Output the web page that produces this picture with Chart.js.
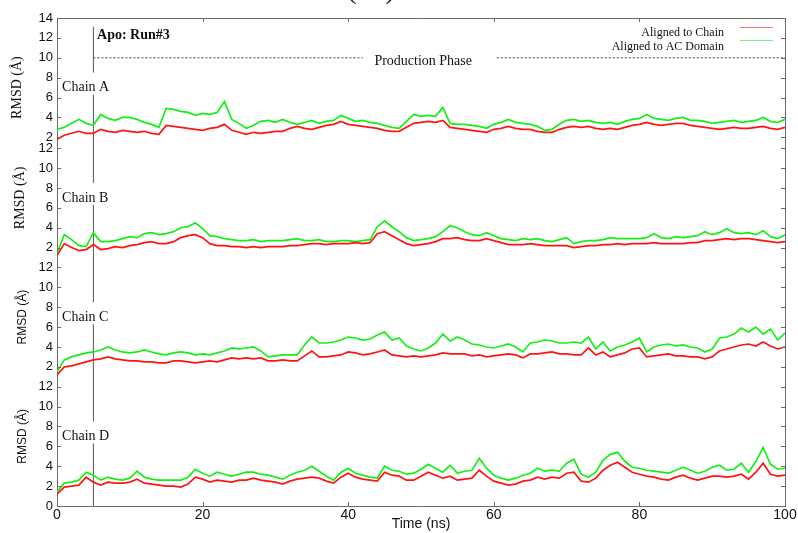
<!DOCTYPE html>
<html>
<head>
<meta charset="utf-8">
<script src="https://cdn.jsdelivr.net/npm/chart.js@4.4.1/dist/chart.umd.min.js"></script>
<style>
  html, body { margin: 0; padding: 0; background: #fff; }
  canvas { display: block; }
</style>
</head>
<body>
<canvas id="rmsdChart" width="798" height="533"></canvas>
<script>
// RMSD traces, one sample per ns (0..100 ns)
const TIME_NS = Array.from({ length: 101 }, (_, i) => i);

const A_CHAIN = [1.8,2.2,2.4,2.6,2.4,2.4,2.8,2.6,2.5,2.7,
  2.6,2.5,2.6,2.4,2.3,3.2,3.1,3.0,2.9,2.8,
  2.7,2.9,3.0,3.3,2.7,2.5,2.3,2.5,2.4,2.5,
  2.6,2.6,2.9,3.1,2.9,2.8,3.0,3.2,3.3,3.6,
  3.3,3.2,3.1,3.0,2.9,2.7,2.6,2.6,3.0,3.4,
  3.5,3.6,3.5,3.7,3.0,2.9,2.8,2.7,2.6,2.5,
  2.8,2.9,3.1,2.9,2.8,2.8,2.6,2.5,2.5,2.8,
  3.0,3.1,3.0,3.1,2.9,2.8,2.9,2.8,3.0,3.2,
  3.3,3.5,3.3,3.2,3.3,3.4,3.4,3.2,3.1,3.0,
  2.9,2.8,2.9,3.0,2.9,2.9,3.0,3.1,2.9,2.8,
  3.0];
const A_DOMAIN = [2.8,3.0,3.4,3.8,3.4,3.2,4.3,3.9,3.7,4.0,
  4.0,3.8,3.5,3.3,3.0,4.9,4.8,4.6,4.5,4.2,
  4.4,4.3,4.5,5.6,3.8,3.4,2.9,3.2,3.6,3.7,
  3.5,3.8,3.5,3.3,3.5,3.7,3.4,3.6,3.7,4.2,
  3.9,3.6,3.7,3.5,3.4,3.2,3.0,2.9,3.6,4.3,
  4.1,4.2,4.1,5.0,3.4,3.3,3.3,3.2,3.1,2.9,
  3.3,3.5,3.8,3.5,3.4,3.3,3.1,2.7,2.8,3.3,
  3.7,3.8,3.6,3.7,3.5,3.4,3.5,3.3,3.6,3.8,
  3.9,4.3,3.9,3.8,3.7,3.9,4.0,3.7,3.7,3.6,
  3.4,3.5,3.6,3.7,3.5,3.6,3.7,4.0,3.6,3.5,
  3.8];

const B_CHAIN = [1.2,2.4,2.0,1.7,1.8,2.3,1.8,1.9,2.1,2.0,
  2.2,2.3,2.5,2.6,2.4,2.4,2.6,3.0,3.2,3.3,
  3.0,2.4,2.2,2.2,2.1,2.1,2.0,2.1,2.0,2.1,
  2.1,2.1,2.2,2.2,2.3,2.4,2.4,2.3,2.4,2.4,
  2.4,2.5,2.4,2.5,3.4,3.6,3.2,2.8,2.4,2.2,
  2.3,2.4,2.6,2.9,2.9,3.0,2.8,2.7,2.7,2.9,
  2.7,2.5,2.3,2.3,2.3,2.4,2.3,2.2,2.2,2.2,
  2.2,2.0,2.1,2.2,2.2,2.3,2.3,2.4,2.3,2.4,
  2.4,2.4,2.5,2.4,2.4,2.4,2.4,2.5,2.5,2.7,
  2.7,2.8,2.9,2.8,2.9,2.9,2.8,2.7,2.6,2.5,
  2.6];
const B_DOMAIN = [1.4,3.3,2.8,2.2,2.1,3.5,2.6,2.6,2.7,2.9,
  3.1,3.0,3.4,3.5,3.3,3.4,3.6,4.0,4.1,4.5,
  3.9,3.2,3.1,2.9,2.8,2.7,2.7,2.8,2.6,2.7,
  2.7,2.7,2.8,2.9,2.7,2.7,2.8,2.6,2.6,2.7,
  2.7,2.6,2.7,2.8,4.1,4.7,4.1,3.6,3.0,2.7,
  2.8,2.9,3.1,3.6,4.2,4.0,3.6,3.3,3.2,3.5,
  3.2,2.9,2.8,2.7,2.9,2.8,2.9,2.7,2.6,2.8,
  3.0,2.4,2.6,2.7,2.7,2.8,3.0,2.9,2.9,2.9,
  2.9,3.0,3.4,3.0,2.9,3.1,3.0,3.1,3.2,3.6,
  3.3,3.5,3.9,3.5,3.4,3.5,3.3,3.7,3.1,2.9,
  3.3];

const C_CHAIN = [1.2,2.0,2.1,2.3,2.5,2.7,2.8,3.0,2.8,2.7,
  2.6,2.6,2.5,2.5,2.4,2.4,2.6,2.6,2.5,2.4,
  2.5,2.6,2.5,2.7,2.9,2.8,2.9,2.8,2.9,2.6,
  2.6,2.7,2.6,2.6,3.1,3.6,3.0,3.0,3.1,3.2,
  3.5,3.4,3.2,3.3,3.5,3.7,3.2,3.1,3.0,3.1,
  3.0,3.1,3.2,3.4,3.3,3.3,3.3,3.1,3.2,3.0,
  3.1,3.2,3.3,3.2,2.9,3.3,3.3,3.4,3.5,3.3,
  3.3,3.2,3.2,3.9,3.2,3.5,3.0,3.2,3.4,3.8,
  3.9,3.0,3.1,3.2,3.3,3.1,3.1,3.0,3.0,2.8,
  3.0,3.6,3.8,4.0,4.2,4.3,4.1,4.5,4.1,3.8,
  4.0];
const C_DOMAIN = [1.5,2.7,3.0,3.2,3.4,3.5,3.7,4.0,3.7,3.5,
  3.4,3.5,3.7,3.5,3.3,3.2,3.4,3.5,3.4,3.2,
  3.3,3.2,3.4,3.6,3.9,3.8,3.9,4.0,3.6,3.0,
  3.1,3.2,3.2,3.2,4.2,5.0,4.4,4.4,4.5,4.7,
  5.0,4.9,4.7,4.8,5.2,5.5,4.7,4.9,4.1,3.8,
  3.6,3.9,4.4,5.3,4.6,5.0,4.7,4.3,4.2,4.0,
  3.9,4.1,4.3,4.0,3.5,4.4,4.5,4.7,4.6,4.4,
  4.4,4.5,4.4,5.0,3.8,4.5,3.6,4.0,4.2,4.5,
  4.9,3.5,4.0,4.2,4.3,4.1,4.2,4.0,3.9,3.5,
  3.8,4.9,5.0,5.3,5.9,5.5,6.0,5.3,5.8,4.7,
  5.4];

const D_CHAIN = [1.2,1.9,2.0,2.1,2.9,2.4,2.1,2.4,2.3,2.3,
  2.4,2.7,2.3,2.2,2.1,2.0,2.0,1.9,2.2,2.9,
  2.7,2.4,2.6,2.5,2.4,2.6,2.6,2.8,2.6,2.5,
  2.4,2.2,2.5,2.7,2.8,2.9,2.8,2.5,2.3,2.9,
  3.3,2.9,2.7,2.6,2.5,3.4,3.1,3.0,2.6,2.6,
  3.0,3.4,3.1,2.8,3.0,2.6,2.7,2.8,3.6,3.0,
  2.5,2.3,2.1,2.2,2.5,2.6,2.9,2.7,2.9,2.8,
  3.3,3.4,2.5,2.4,2.8,3.6,4.1,4.4,3.9,3.4,
  3.2,3.0,2.9,2.7,2.6,2.9,3.1,2.8,2.6,2.8,
  3.0,3.0,2.9,3.0,3.2,2.7,3.4,4.3,3.2,3.0,
  3.1];
const D_DOMAIN = [1.4,2.3,2.4,2.6,3.4,3.1,2.6,2.9,2.7,2.6,
  2.8,3.5,2.9,2.7,2.6,2.6,2.6,2.6,2.9,3.7,
  3.3,3.0,3.4,3.2,3.0,3.2,3.4,3.4,3.2,3.1,
  2.9,2.7,3.1,3.4,3.6,4.0,3.5,3.0,2.6,3.4,
  3.8,3.3,3.1,2.9,2.8,4.0,3.6,3.5,3.2,3.3,
  3.7,4.2,3.8,3.4,4.1,3.3,3.5,3.6,4.8,3.8,
  3.1,2.8,2.6,2.8,3.1,3.3,3.8,3.5,3.6,3.5,
  4.3,4.7,3.2,2.9,3.4,4.6,5.2,5.4,4.5,3.9,
  3.8,3.6,3.5,3.4,3.3,3.6,3.9,3.6,3.3,3.5,
  3.9,4.1,3.6,3.7,4.3,3.4,4.5,5.9,4.2,3.7,
  3.8];

// tick labels shown for each panel, and the x ticks
const TICKS_A = [2, 4, 6, 8, 10, 12, 14];
const TICKS_BC = [2, 4, 6, 8, 10, 12];
const TICKS_D = [0, 2, 4, 6, 8, 10, 12];
const X_TICKS = [0, 20, 40, 60, 80, 100];

// production phase starts at 5 ns, dotted marker at 10 Å in panel A
const PHASE_START = 5;
const PHASE_LEVEL = 10;
const PHASE_GAP = [42, 60.4];

const SERIF = '"Liberation Serif", "Times New Roman", serif';
const SANS = '"Liberation Sans", Arial, sans-serif';
const FRAME = '#6a6a6a';
const RED = 'rgb(255, 20, 20)';
const GREEN = 'rgb(20, 240, 20)';

// panels share one canvas, stacked with overlapping 0..14 ranges
const Y_MAX = 49.1;
const PANELS = [
  { id: 'yA', name: 'Chain A', offset: 35.1, chain: A_CHAIN, domain: A_DOMAIN, ticks: TICKS_A, titleFont: '14px ' + SERIF, titleX: 17 },
  { id: 'yB', name: 'Chain B', offset: 24, chain: B_CHAIN, domain: B_DOMAIN, ticks: TICKS_BC, titleFont: '14px ' + SERIF, titleX: 20 },
  { id: 'yC', name: 'Chain C', offset: 12, chain: C_CHAIN, domain: C_DOMAIN, ticks: TICKS_BC, titleFont: '12px ' + SANS, titleX: 23 },
  { id: 'yD', name: 'Chain D', offset: 0, chain: D_CHAIN, domain: D_DOMAIN, ticks: TICKS_D, titleFont: '12px ' + SANS, titleX: 23 }
];

const TICK_VALUES = [];
const TICK_LABELS = [];
PANELS.slice().reverse().forEach(p => {
  p.ticks.forEach(t => { TICK_VALUES.push(p.offset + t); TICK_LABELS.push(String(t)); });
});

const toPoints = ys => ys.map((y, i) => ({ x: TIME_NS[i], y }));

const datasets = [];
PANELS.forEach(p => {
  datasets.push({ label: 'Aligned to Chain', data: toPoints(p.chain), yAxisID: p.id, borderColor: RED, borderWidth: 1.7, pointRadius: 0, tension: 0, order: 1 });
  datasets.push({ label: 'Aligned to AC Domain', data: toPoints(p.domain), yAxisID: p.id, borderColor: GREEN, borderWidth: 1.7, pointRadius: 0, tension: 0, order: 2 });
});
// start of production phase
datasets.push({ data: [{ x: PHASE_START, y: 0 }, { x: PHASE_START, y: 48.2 }], yAxisID: 'y', borderColor: '#555', borderWidth: 1, pointRadius: 0, order: 3 });
datasets.push({
  data: [{ x: PHASE_START, y: PHASE_LEVEL }, { x: PHASE_GAP[0], y: PHASE_LEVEL }, { x: 51, y: null },
         { x: PHASE_GAP[1], y: PHASE_LEVEL }, { x: 100, y: PHASE_LEVEL }],
  yAxisID: 'yA', borderColor: '#444', borderWidth: 1, borderDash: [2, 2], pointRadius: 0, spanGaps: false, order: 3
});

const scales = {
  x: {
    type: 'linear', min: 0, max: 100,
    afterBuildTicks: s => { s.ticks = X_TICKS.map(v => ({ value: v })); },
    ticks: { padding: 1, color: '#111', font: { family: SANS, size: 14 } },
    grid: { drawOnChartArea: false, drawTicks: false },
    border: { color: FRAME },
    title: { display: true, text: 'Time (ns)', color: '#111', font: { family: SANS, size: 14 }, padding: 0 },
    afterFit: s => { s.height = 27; }
  },
  y: {
    min: 0, max: Y_MAX, weight: 10,
    afterBuildTicks: s => { s.ticks = TICK_VALUES.map(v => ({ value: v })); },
    ticks: { autoSkip: false, padding: 4, color: '#111', font: { family: SANS, size: 13 }, callback: (v, i) => TICK_LABELS[i] },
    grid: { drawOnChartArea: false, drawTicks: false },
    border: { color: FRAME },
    afterFit: s => { s.width = 57; }
  }
};
PANELS.forEach(p => {
  scales[p.id] = { display: false, min: -p.offset, max: Y_MAX - p.offset, afterFit: s => { s.width = 0; } };
});

const overlay = {
  id: 'overlay',
  afterDraw(chart) {
    const { ctx, chartArea: a } = chart;
    const sx = chart.scales.x, sy = chart.scales.y, sA = chart.scales.yA;
    const line = (x1, y1, x2, y2) => { ctx.beginPath(); ctx.moveTo(x1, y1); ctx.lineTo(x2, y2); ctx.stroke(); };
    ctx.save();

    // top and right frame, inward tick marks
    ctx.strokeStyle = FRAME;
    ctx.lineWidth = 1;
    line(a.left, a.top + 0.5, a.right + 0.5, a.top + 0.5);
    line(a.right + 0.5, a.top, a.right + 0.5, a.bottom);
    TICK_VALUES.forEach(v => {
      const py = Math.round(sy.getPixelForValue(v)) + 0.5;
      line(a.left, py, a.left + 4, py);
      line(a.right - 4, py, a.right, py);
    });
    X_TICKS.slice(1, -1).forEach(v => {
      const px = Math.round(sx.getPixelForValue(v)) + 0.5;
      line(px, a.top, px, a.top + 4);
      line(px, a.bottom, px, a.bottom - 4);
    });

    // chain labels (white boxes break the phase marker) and panel axis titles
    PANELS.forEach(p => {
      const cy = chart.scales[p.id].getPixelForValue(7);
      const lx = sx.getPixelForValue(0.7);
      ctx.font = '14px ' + SERIF;
      const w = ctx.measureText(p.name).width;
      ctx.fillStyle = '#fff';
      ctx.fillRect(lx - 1, cy - 15, w + 3, 22);
      ctx.fillStyle = '#111';
      ctx.textAlign = 'left';
      ctx.textBaseline = 'middle';
      ctx.fillText(p.name, lx, cy);

      ctx.save();
      ctx.translate(p.titleX, cy);
      ctx.rotate(-Math.PI / 2);
      ctx.font = p.titleFont;
      ctx.textAlign = 'center';
      ctx.fillText('RMSD (Å)', 0, 0);
      ctx.restore();
    });

    // run name and phase caption
    ctx.textBaseline = 'middle';
    ctx.textAlign = 'left';
    ctx.font = 'bold 14px ' + SERIF;
    ctx.fillText('Apo: Run#3', sx.getPixelForValue(5.5), sA.getPixelForValue(12.2));
    ctx.textAlign = 'center';
    ctx.font = '14px ' + SERIF;
    ctx.fillText('Production Phase', sx.getPixelForValue(50.3), sA.getPixelForValue(9.6));

    // legend
    ctx.textAlign = 'right';
    ctx.font = '12px ' + SERIF;
    ctx.fillText('Aligned to Chain', a.right - 61, a.top + 15);
    ctx.fillText('Aligned to AC Domain', a.right - 61, a.top + 29);
    ctx.globalAlpha = 0.6;
    ctx.strokeStyle = RED;
    line(a.right - 45, a.top + 9.5, a.right - 12, a.top + 9.5);
    ctx.strokeStyle = GREEN;
    line(a.right - 45, a.top + 22.5, a.right - 12, a.top + 22.5);
    ctx.globalAlpha = 1;

    // figure panel letter, clipped at the top edge
    ctx.fillStyle = '#222';
    ctx.textAlign = 'center';
    ctx.textBaseline = 'alphabetic';
    ctx.font = '30px ' + SERIF;
    ctx.fillText('( c )', 371, -2);

    ctx.restore();
  }
};

new Chart(document.getElementById('rmsdChart'), {
  type: 'line',
  data: { datasets },
  options: {
    responsive: false,
    animation: false,
    devicePixelRatio: 1,
    layout: { padding: { top: 18, right: 13, bottom: 0, left: 0 } },
    plugins: { legend: { display: false }, tooltip: { enabled: false } },
    scales
  },
  plugins: [overlay]
});
</script>
</body>
</html>
